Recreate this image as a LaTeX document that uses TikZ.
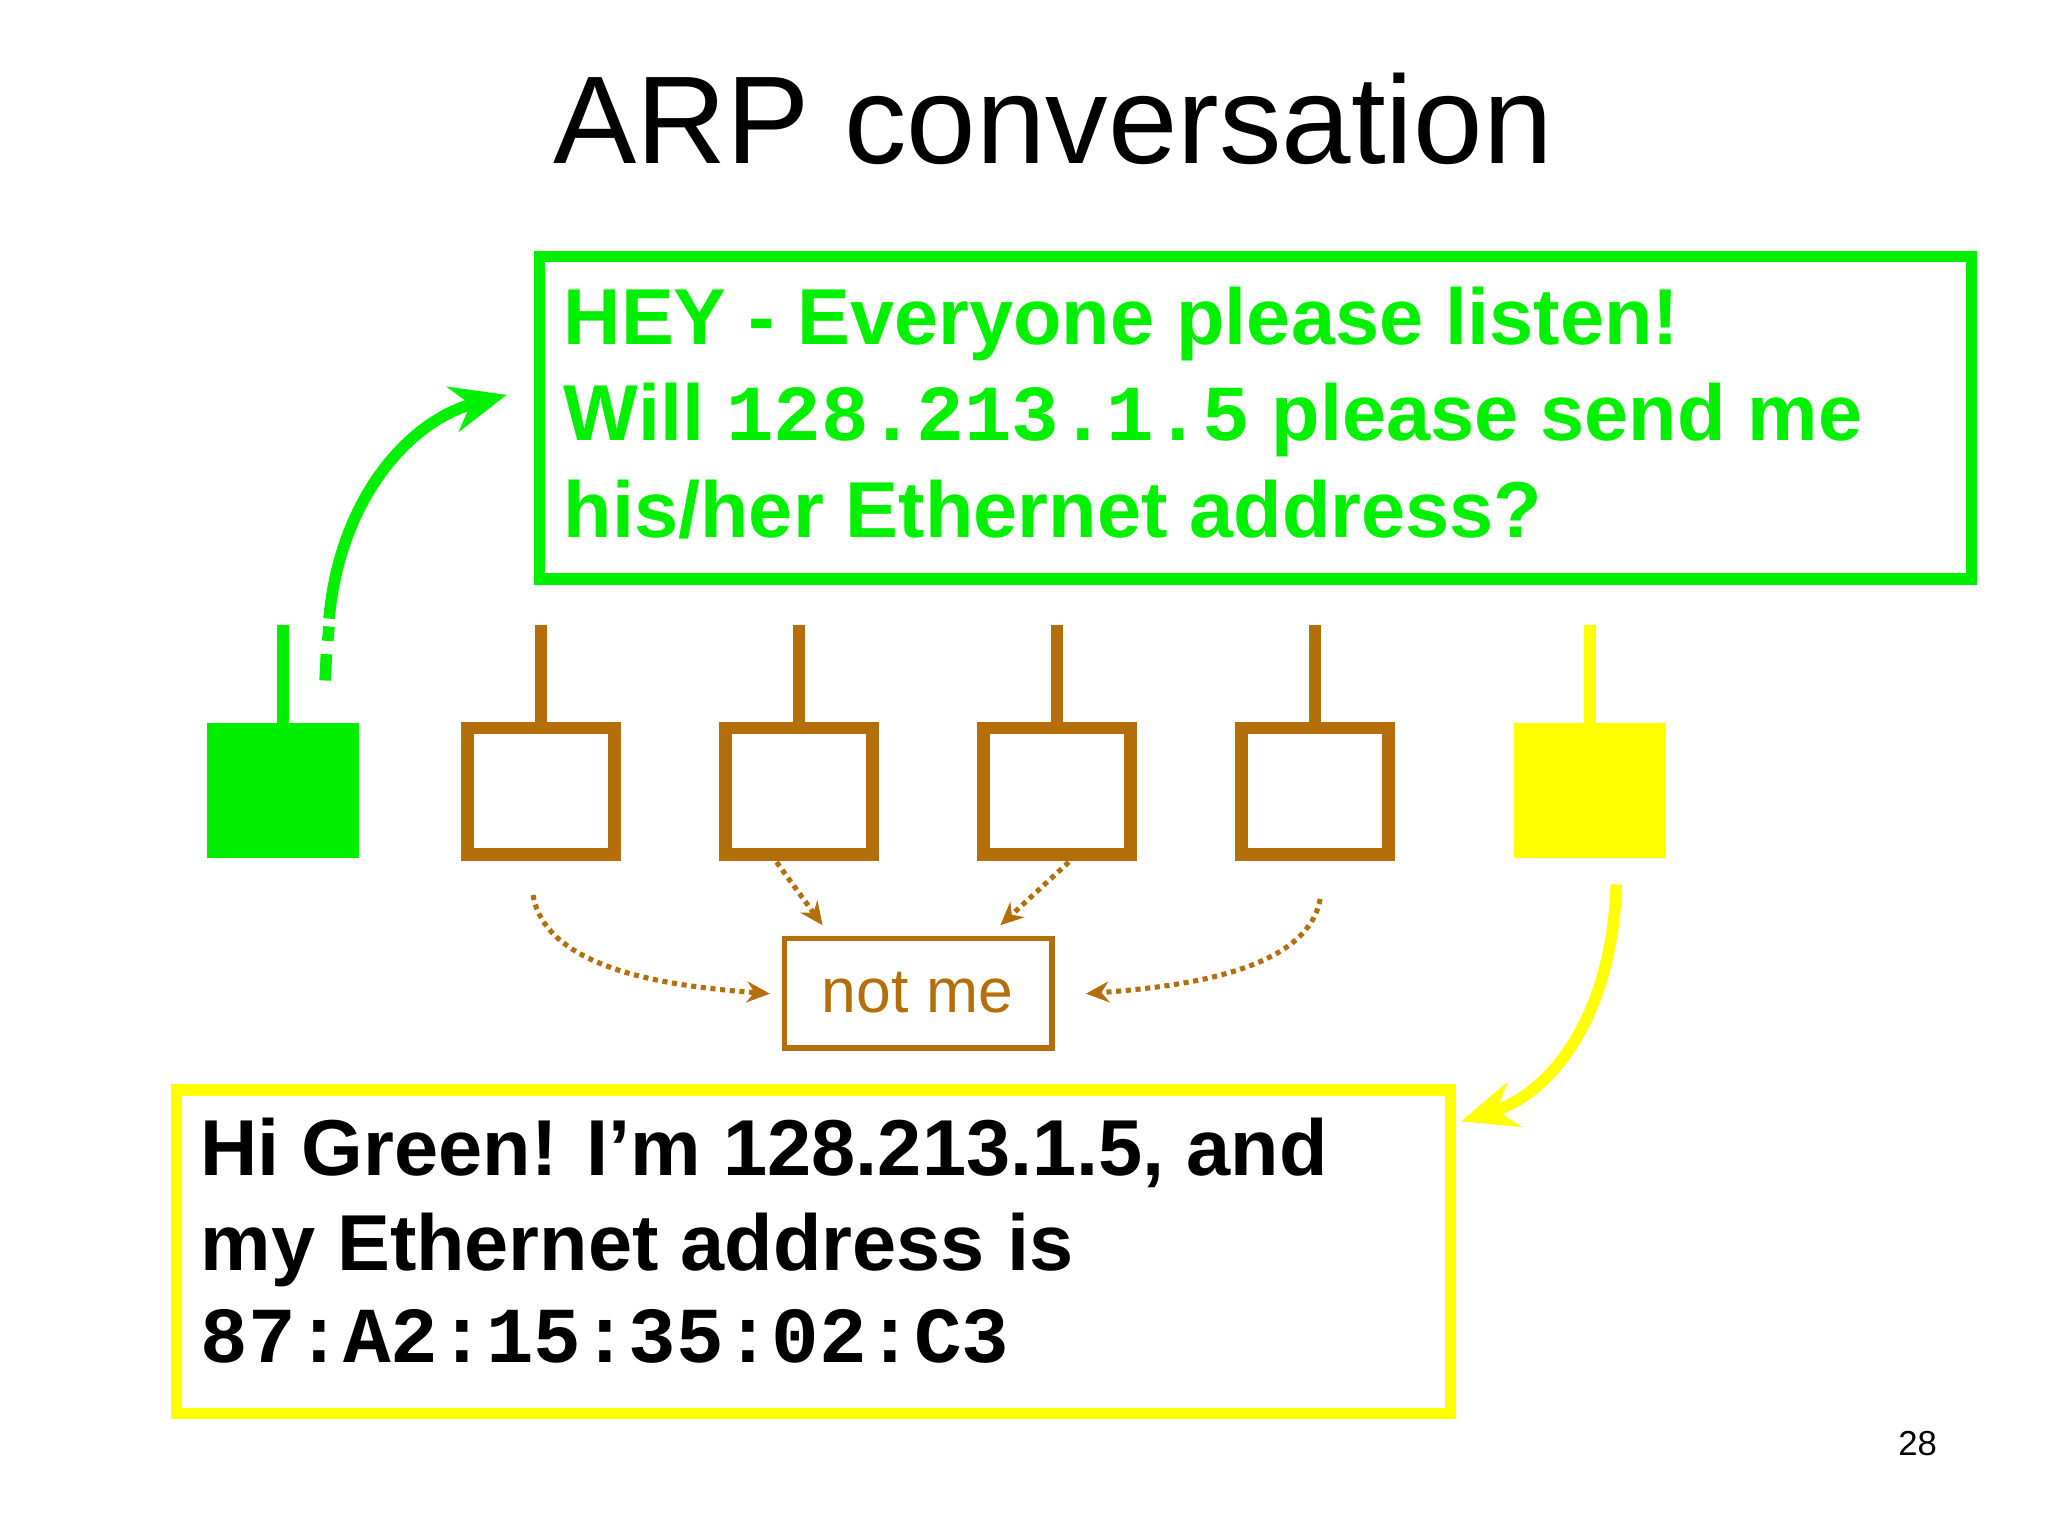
\documentclass[tikz,border=0pt]{standalone}
\usepackage{fontspec}
\setmainfont{Liberation Sans}
\setmonofont{Liberation Mono}
\usetikzlibrary{arrows.meta}
\definecolor{grn}{RGB}{0,240,0}
\definecolor{yel}{RGB}{255,255,0}
\definecolor{brn}{RGB}{180,110,10}
\tikzset{
 txt/.style={anchor=base west,inner sep=0pt,font=\fontsize{34.3}{38}\selectfont\bfseries},
 host/.style={line width=5.5pt},
 dotarr/.style={brn,line width=2.2pt,dotted,-{Stealth[length=10pt,width=9pt]}},
}
\begin{document}
\begin{tikzpicture}[x=0.02cm,y=-0.02cm]
\useasboundingbox (0,0) rectangle (1556,1167);
\node[inner sep=0pt,font=\fontsize{54}{58}\selectfont] (title) at (800,90) {ARP conversation};
% green box
\draw[grn,line width=5pt] (410,195) rectangle (1498,440);
\node[txt,text=grn] (g1) at (428,262) {HEY - Everyone please listen!};
\node[txt,text=grn] (g2) at (428,335) {Will \texttt{128.213.1.5} please send me};
\node[txt,text=grn] (g3) at (428,408) {his/her Ethernet address?};
% hosts
\fill[grn] (157,549) rectangle (273,652);
\draw[grn,host] (215,549) -- (215,475);
\foreach \x/\n in {411/b1,607/b2,803/b3,999/b4}{
 \draw[brn,host] (\x-56,553) rectangle (\x+56,649);
 \draw[brn,host] (\x,553) -- (\x,475);
}
\fill[yel] (1150,549) rectangle (1266,652);
\draw[yel,host] (1208,549) -- (1208,475);
% green arrow
\draw[grn,line width=5pt] (247,517) -- (248,497) (249,487) -- (250,476);
\draw[grn,line width=5pt,-{Stealth[length=24pt,width=20pt]}] (250,470) .. controls (258,380) and (310,320) .. (385,300);
% not me
\draw[brn,line width=2.5pt] (596,713) rectangle (799,796);
\node[text=brn,font=\fontsize{27}{30}\selectfont,inner sep=0pt] (nmt) at (697,754) {not me};
\draw[dotarr] (405,680) .. controls (415,740) and (520,750) .. (585,755);
\draw[dotarr] (590,655) -- (625,703);
\draw[dotarr] (812,655) -- (760,703);
\draw[dotarr] (1003,683) .. controls (993,740) and (890,750) .. (825,755);
% yellow arrow
\draw[yel,line width=5pt,-{Stealth[length=24pt,width=20pt]}] (1228,672) .. controls (1225,770) and (1180,830) .. (1110,852);
% yellow box
\draw[yel,line width=5pt] (134,828) rectangle (1102,1074);
\node[txt] (y1) at (152,893) {Hi Green! I’m 128.213.1.5, and};
\node[txt] (y2) at (152,965) {my Ethernet address is};
\node[txt] (y3) at (152,1035) {\ttfamily 87:A2:15:35:02:C3};
\node[inner sep=0pt,font=\fontsize{15}{18}\selectfont] (pg) at (1457,1097) {28};
\end{tikzpicture}
\end{document}
